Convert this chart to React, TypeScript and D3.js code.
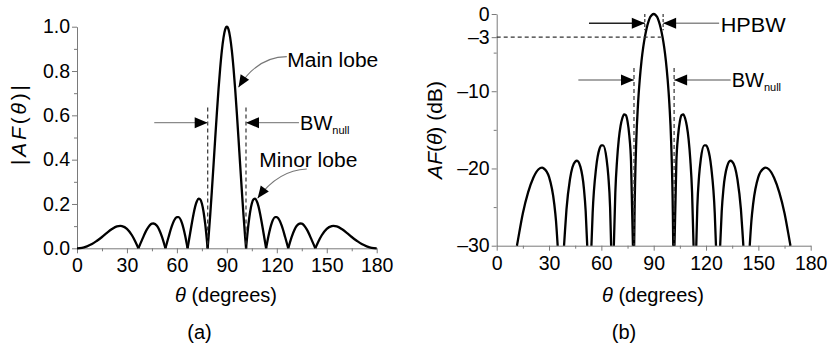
import React, { useRef, useEffect } from "react";
import * as d3 from "d3";

// (a) linear |AF(theta)|
const thetaLin = [
  0, 3, 6, 9, 12, 15, 18, 21, 24, 26, 27, 30, 33, 35, 36.87, 39, 42, 45, 46, 48, 51, 53.13, 55, 57, 59, 60, 61, 63, 65,
  66.42, 68, 69, 70, 71, 72, 73, 74, 75, 76, 77, 78.46, 79, 80, 81, 82, 83, 84, 85, 86, 87, 88, 89, 90, 91, 92, 93,
  94, 95, 96, 97, 98, 99, 100, 101, 101.54, 103, 104, 105, 106, 107, 108, 109, 110, 111, 112, 113.58, 115, 117, 119,
  120, 121, 123, 125, 126.87, 129, 132, 134, 135, 138, 141, 143.13, 145, 147, 150, 153, 154, 156, 159, 162, 165, 168,
  171, 174, 177, 180,
];
const afLin = [
  0, 0.002, 0.009, 0.019, 0.034, 0.051, 0.07, 0.087, 0.099, 0.101, 0.1, 0.088, 0.059, 0.031, 0, 0.037, 0.085, 0.111,
  0.112, 0.102, 0.053, 0, 0.051, 0.101, 0.134, 0.141, 0.141, 0.115, 0.056, 0, 0.07, 0.114, 0.155, 0.189, 0.212, 0.224,
  0.221, 0.202, 0.165, 0.11, 0, 0.049, 0.149, 0.26, 0.376, 0.495, 0.61, 0.718, 0.813, 0.892, 0.951, 0.988, 1.0, 0.988,
  0.951, 0.892, 0.813, 0.718, 0.61, 0.495, 0.376, 0.26, 0.149, 0.049, 0, 0.11, 0.165, 0.202, 0.221, 0.224, 0.212,
  0.189, 0.155, 0.114, 0.07, 0, 0.056, 0.115, 0.141, 0.141, 0.134, 0.101, 0.051, 0, 0.053, 0.102, 0.112, 0.111, 0.085,
  0.037, 0, 0.031, 0.059, 0.088, 0.1, 0.101, 0.099, 0.087, 0.07, 0.051, 0.034, 0.019, 0.009, 0.002, 0,
];

// (b) AF(theta) in dB, clipped at the -30 dB floor
const thetaDb = [
  11.6, 12, 15, 18, 21, 24, 26, 27, 30, 33, 34, 34.95, 38.6, 39, 40, 42, 45, 46, 48, 50, 51, 51.9, 54.3, 55, 57, 59,
  60, 61, 63, 64, 65, 65.6, 67.15, 68, 69, 70, 71, 72, 73, 74, 75, 76, 77, 78.1, 78.8, 79, 80, 81, 82, 83, 84, 85, 86,
  87, 88, 89, 90, 91, 92, 93, 94, 95, 96, 97, 98, 99, 100, 101, 101.2, 101.9, 103, 104, 105, 106, 107, 108, 109, 110,
  111, 112, 112.85, 114.4, 115, 116, 117, 119, 120, 121, 123, 125, 125.7, 128.1, 129, 130, 132, 134, 135, 138, 140,
  141, 141.4, 145.05, 146, 147, 150, 153, 154, 156, 159, 162, 165, 168, 168.4,
];
const afDb = [
  -30, -29.5, -25.8, -23.1, -21.2, -20.1, -19.9, -20.0, -21.1, -24.6, -26.8, -30, -30, -28.6, -25.3, -21.4, -19.1,
  -19.0, -19.8, -22.6, -25.5, -30, -30, -25.8, -19.9, -17.4, -17.0, -17.0, -18.8, -21.0, -25.0, -30, -30, -23.1,
  -18.9, -16.2, -14.5, -13.5, -13.0, -13.1, -13.9, -15.7, -19.1, -30, -30, -26.2, -16.5, -11.7, -8.5, -6.1, -4.3,
  -2.9, -1.8, -1.0, -0.4, -0.1, 0, -0.1, -0.4, -1.0, -1.8, -2.9, -4.3, -6.1, -8.5, -11.7, -16.5, -26.2, -30, -30,
  -19.1, -15.7, -13.9, -13.1, -13.0, -13.5, -14.5, -16.2, -18.9, -23.1, -30, -30, -25.0, -21.0, -18.8, -17.0, -17.0,
  -17.4, -19.9, -25.8, -30, -30, -25.5, -22.6, -19.8, -19.0, -19.1, -21.4, -25.3, -28.6, -30, -30, -26.8, -24.6,
  -21.1, -20.0, -19.9, -20.1, -21.2, -23.1, -25.8, -29.5, -30,
];

const xTicks = [0, 30, 60, 90, 120, 150, 180];
const xMinor = [15, 45, 75, 105, 135, 165];
const yTicksLin = [0, 0.2, 0.4, 0.6, 0.8, 1.0];
const yMinorLin = [0.1, 0.3, 0.5, 0.7, 0.9];
const yTicksDb = [0, -3, -10, -20, -30];
const yMinorDb = [-5, -15, -25];
const DB_FLOOR = -30;

// beamwidth markers (degrees)
const nullsBW = [78.5, 101.5];
const nullsBWdb = [78.7, 101.7];
const halfPower = [84.9, 95.4];

const FONT = "'Liberation Sans', Arial, Helvetica, sans-serif";

function splitLin(xs: number[], ys: number[]) {
  const segs: [number, number][][] = [];
  let cur: [number, number][] = [];
  xs.forEach((x, i) => {
    const p: [number, number] = [x, ys[i]];
    cur.push(p);
    if (ys[i] === 0) {
      if (cur.length > 1) segs.push(cur);
      cur = [p];
    }
  });
  if (cur.length > 1) segs.push(cur);
  return segs;
}

function splitDb(xs: number[], ys: number[]) {
  const segs: [number, number][][] = [];
  let cur: [number, number][] = [];
  xs.forEach((x, i) => {
    const p: [number, number] = [x, ys[i]];
    if (ys[i] <= DB_FLOOR) {
      if (cur.length > 0) {
        cur.push(p);
        segs.push(cur);
        cur = [];
      } else cur = [p];
    } else cur.push(p);
  });
  return segs;
}

const App = () => {
  const ref = useRef<SVGSVGElement>(null);

  useEffect(() => {
    const svg = d3.select(ref.current);
    svg.selectAll("*").remove();

    const arrowHead = (g: any, tx: number, ty: number, ang: number, L = 13, hw = 5.5) => {
      const c = Math.cos(ang), s = Math.sin(ang);
      const bx = tx - L * c, by = ty - L * s;
      g.append("path")
        .attr("d", `M${tx},${ty}L${bx - hw * s},${by + hw * c}L${bx + hw * s},${by - hw * c}Z`)
        .attr("fill", "#000");
    };

    const hArrow = (g: any, x0: number, x1: number, y: number, color = "#8a8a8a") => {
      g.append("line").attr("x1", x0).attr("x2", x1).attr("y1", y).attr("y2", y)
        .attr("stroke", color).attr("stroke-width", 1.4);
      arrowHead(g, x1, y, x1 > x0 ? 0 : Math.PI);
    };

    const curvedArrow = (g: any, sx: number, sy: number, cx: number, cy: number, tx: number, ty: number) => {
      g.append("path").attr("d", `M${sx},${sy}Q${cx},${cy} ${tx},${ty}`)
        .attr("fill", "none").attr("stroke", "#777").attr("stroke-width", 1.1);
      arrowHead(g, tx, ty, Math.atan2(ty - cy, tx - cx), 12, 5);
    };

    const label = (g: any, x: number, y: number, txt: string, len?: number) => {
      const t = g.append("text").attr("x", x).attr("y", y).attr("font-family", FONT)
        .attr("font-size", 20).attr("fill", "#000").text(txt);
      if (len) t.attr("textLength", len).attr("lengthAdjust", "spacingAndGlyphs");
      return t;
    };

    const bwLabel = (g: any, x: number, y: number) => {
      const t = g.append("text").attr("x", x).attr("y", y).attr("font-family", FONT).attr("font-size", 20);
      t.append("tspan").text("BW");
      t.append("tspan").attr("font-size", 11).attr("dy", 4).text("null");
    };

    const drawAxes = (g: any, x: any, y: any, yTicks: number[], yMinor: number[], fmt: (d: any) => string) => {
      const xa = g.append("g").attr("transform", `translate(0,${y.range()[0]})`)
        .call(d3.axisBottom(x).tickValues(xTicks).tickSize(5).tickSizeOuter(0).tickPadding(5));
      g.append("g").attr("transform", `translate(0,${y.range()[0]})`)
        .call(d3.axisBottom(x).tickValues(xMinor).tickSize(3).tickFormat(() => ""))
        .select(".domain").remove();
      const ya = g.append("g").attr("transform", `translate(${x.range()[0]},0)`)
        .call(d3.axisLeft(y).tickValues(yTicks).tickSize(5).tickSizeOuter(0).tickPadding(2).tickFormat(fmt));
      g.append("g").attr("transform", `translate(${x.range()[0]},0)`)
        .call(d3.axisLeft(y).tickValues(yMinor).tickSize(3).tickFormat(() => ""))
        .select(".domain").remove();
      g.selectAll(".domain, .tick line").attr("stroke", "#7a7a7a").attr("stroke-width", 1);
      [xa, ya].forEach((a) =>
        a.selectAll("text").attr("font-family", FONT).attr("font-size", 19.5).attr("fill", "#000")
      );
    };

    const xTitle = (g: any, cx: number, y: number, tag: string, tagX: number) => {
      const t = g.append("text").attr("x", cx).attr("y", y).attr("text-anchor", "middle")
        .attr("font-family", FONT).attr("font-size", 20);
      t.append("tspan").attr("font-style", "italic").text("θ");
      t.append("tspan").text(" (degrees)");
      g.append("text").attr("x", tagX).attr("y", y + 37).attr("text-anchor", "middle")
        .attr("font-family", FONT).attr("font-size", 20).text(tag);
    };

    /*** panel (a): linear scale ***/
    const xa = d3.scaleLinear().domain([0, 180]).range([77, 376.7]);
    const ya = d3.scaleLinear().domain([0, 1]).range([248.3, 26.7]);
    const ga = svg.append("g");
    drawAxes(ga, xa, ya, yTicksLin, yMinorLin, d3.format(".1f"));

    const lineA = d3.line<[number, number]>().x((d) => xa(d[0])).y((d) => ya(d[1])).curve(d3.curveMonotoneX);
    splitLin(thetaLin, afLin).forEach((seg) =>
      ga.append("path").attr("d", lineA(seg)).attr("fill", "none").attr("stroke", "#000")
        .attr("stroke-width", 2.3).attr("stroke-linejoin", "round")
    );

    nullsBW.forEach((t) =>
      ga.append("line").attr("x1", xa(t)).attr("x2", xa(t)).attr("y1", ya(0.635)).attr("y2", ya(0))
        .attr("stroke", "#333").attr("stroke-width", 1.2).attr("stroke-dasharray", "4,3")
    );
    hArrow(ga, xa(46.4), xa(nullsBW[0]), ya(0.567));
    hArrow(ga, xa(133.3), xa(nullsBW[1]), ya(0.567));
    bwLabel(ga, xa(134), ya(0.567) + 7);
    label(ga, xa(126.3), ya(0.82), "Main lobe", 91);
    curvedArrow(ga, xa(126), ya(0.865), xa(108.5), ya(0.865), xa(97), ya(0.727));
    label(ga, xa(109.5), ya(0.368), "Minor lobe", 98);
    curvedArrow(ga, xa(138), ya(0.358), xa(121), ya(0.353), xa(108.5), ya(0.226));

    ga.append("text").attr("transform", `translate(26,125) rotate(-90)`).attr("text-anchor", "middle")
      .attr("font-family", FONT).attr("font-size", 21)
      .attr("textLength", 80).attr("lengthAdjust", "spacing")
      .call((t: any) => {
        t.append("tspan").text("|");
        t.append("tspan").attr("font-style", "italic").text("AF");
        t.append("tspan").text("(");
        t.append("tspan").attr("font-style", "italic").text("θ");
        t.append("tspan").text(")|");
      });
    xTitle(ga, 226, 302, "(a)", 199.5);

    /*** panel (b): dB scale ***/
    const xb = d3.scaleLinear().domain([0, 180]).range([496.7, 810.7]);
    const yb = d3.scaleLinear().domain([DB_FLOOR, 0]).range([245.7, 14]);
    const gb = svg.append("g");
    drawAxes(gb, xb, yb, yTicksDb, yMinorDb, (d: number) => (d < 0 ? "\u2013" + Math.abs(d) : String(d)));

    const lineB = d3.line<[number, number]>().x((d) => xb(d[0])).y((d) => yb(d[1])).curve(d3.curveMonotoneX);
    splitDb(thetaDb, afDb).forEach((seg) =>
      gb.append("path").attr("d", lineB(seg)).attr("fill", "none").attr("stroke", "#000")
        .attr("stroke-width", 2.3).attr("stroke-linejoin", "round")
    );

    // -3 dB line and half-power markers
    gb.append("line").attr("x1", xb(0)).attr("x2", xb(94.1)).attr("y1", yb(-3)).attr("y2", yb(-3))
      .attr("stroke", "#333").attr("stroke-width", 1.2).attr("stroke-dasharray", "4,3");
    halfPower.forEach((t) =>
      gb.append("line").attr("x1", xb(t)).attr("x2", xb(t)).attr("y1", yb(0)).attr("y2", yb(-2.1))
        .attr("stroke", "#333").attr("stroke-width", 1.2).attr("stroke-dasharray", "3,2")
    );
    hArrow(gb, xb(52.9), xb(halfPower[0]), yb(-1.2), "#222");
    hArrow(gb, xb(127.5), xb(halfPower[1]), yb(-1.2));
    label(gb, xb(128.4), yb(-2.3), "HPBW", 65);

    nullsBWdb.forEach((t) =>
      gb.append("line").attr("x1", xb(t)).attr("x2", xb(t)).attr("y1", yb(-7)).attr("y2", yb(DB_FLOOR))
        .attr("stroke", "#333").attr("stroke-width", 1.2).attr("stroke-dasharray", "4,3")
    );
    hArrow(gb, xb(46.8), xb(nullsBWdb[0]), yb(-8.55));
    hArrow(gb, xb(134.1), xb(nullsBWdb[1]), yb(-8.55));
    bwLabel(gb, xb(134.7), yb(-8.55) + 7);

    gb.append("text").attr("transform", `translate(442,130) rotate(-90)`).attr("text-anchor", "middle")
      .attr("font-family", FONT).attr("font-size", 21)
      .call((t: any) => {
        t.append("tspan").attr("font-style", "italic").text("AF");
        t.append("tspan").text("(");
        t.append("tspan").attr("font-style", "italic").text("θ");
        t.append("tspan").text(") (dB)");
      });
    xTitle(gb, 653, 302, "(b)", 624);
  }, []);

  return (
    <svg
      ref={ref}
      width={829}
      height={350}
      style={{ position: "absolute", left: 0, top: 0, background: "#fff" }}
    ></svg>
  );
};

export default App;
